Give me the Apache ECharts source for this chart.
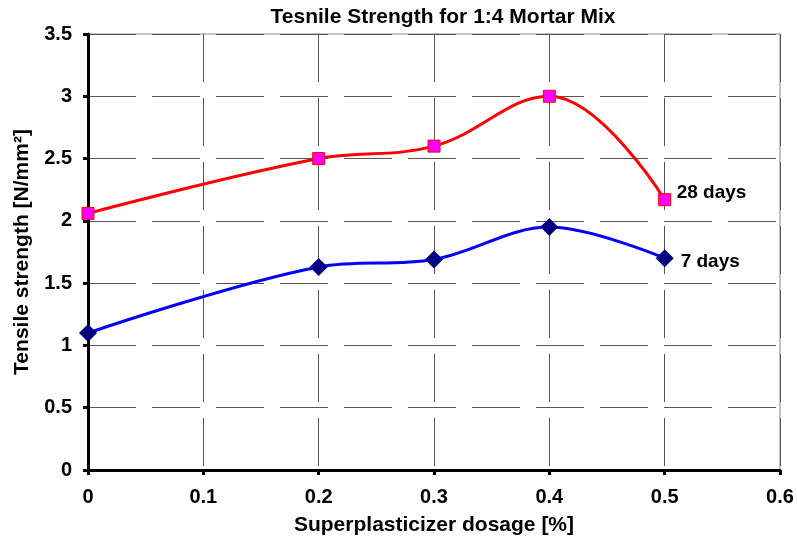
<!DOCTYPE html>
<html><head><meta charset="utf-8">
<script src="https://cdn.jsdelivr.net/npm/echarts@6/dist/echarts.min.js"></script>
<style>html,body{margin:0;padding:0;background:#fff}#c{width:797px;height:544px}</style>
</head><body><div id="c"></div>
<script>
var dosage = [0, 0.2, 0.3, 0.4, 0.5];
var days28 = [2.06, 2.5, 2.6, 3.0, 2.17];
var days7 = [1.1, 1.63, 1.69, 1.95, 1.70];
var seriesNames = ['28 days', '7 days'];
var FONT = '"Liberation Sans", Arial, sans-serif';
function pairs(xs, ys){ return xs.map(function(x,i){return [x, ys[i]];}); }
var chart = echarts.init(document.getElementById('c'), null, {renderer:'canvas'});
var dashed = {color:'#555', width:1, type:[48,16]};
chart.setOption({
  animation:false,
  backgroundColor:'#fff',
  title:{text:'Tesnile Strength for 1:4 Mortar Mix', left:438, textAlign:'center', top:2,
    textStyle:{fontFamily:FONT, fontWeight:'bold', fontSize:21, color:'#000'}},
  grid:{left:88, right:17, top:34, bottom:74, show:true, borderColor:'#888', borderWidth:1},
  xAxis:{type:'value', min:0, max:0.6, interval:0.1,
    name:'Superplasticizer dosage [%]', nameLocation:'middle', nameGap:45,
    nameTextStyle:{fontFamily:FONT, fontWeight:'bold', fontSize:21, color:'#000'},
    axisLine:{show:true, onZero:false, lineStyle:{color:'#000', width:3}},
    axisTick:{show:true, length:5, lineStyle:{color:'#000', width:3}},
    axisLabel:{fontFamily:FONT, fontWeight:'bold', fontSize:20, color:'#000', margin:17,
      formatter:function(v){return String(Math.round(v*10)/10);}},
    splitLine:{show:true, lineStyle:dashed}},
  yAxis:{type:'value', min:0, max:3.5, interval:0.5,
    name:'Tensile strength [N/mm²]', nameLocation:'middle', nameGap:55, nameRotate:90,
    nameTextStyle:{fontFamily:FONT, fontWeight:'bold', fontSize:21, color:'#000'},
    axisLine:{show:true, onZero:false, lineStyle:{color:'#000', width:3}},
    axisTick:{show:true, length:5, lineStyle:{color:'#000', width:3}},
    axisLabel:{fontFamily:FONT, fontWeight:'bold', fontSize:20, color:'#000', margin:16},
    splitLine:{show:true, lineStyle:dashed}},
  series:[
    {name:seriesNames[0], type:'line', data:pairs(dosage, days28), smooth:0.4,
      lineStyle:{color:'#ff0000', width:3}, symbol:'rect', symbolSize:12,
      itemStyle:{color:'#ff00ff', borderColor:'#ff0000', borderWidth:1},
      endLabel:{show:true, formatter:'{a}', fontFamily:FONT, fontWeight:'bold', fontSize:19, color:'#000', distance:12, offset:[0,-7]},
      z:3},
    {name:seriesNames[1], type:'line', data:pairs(dosage, days7), smooth:0.35,
      lineStyle:{color:'#0000ff', width:3}, symbol:'diamond', symbolSize:18,
      itemStyle:{color:'#000080', borderColor:'#000080', borderWidth:0},
      endLabel:{show:true, formatter:'{a}', fontFamily:FONT, fontWeight:'bold', fontSize:19, color:'#000', distance:16, offset:[0,4]},
      z:3}
  ]
});
</script></body></html>
